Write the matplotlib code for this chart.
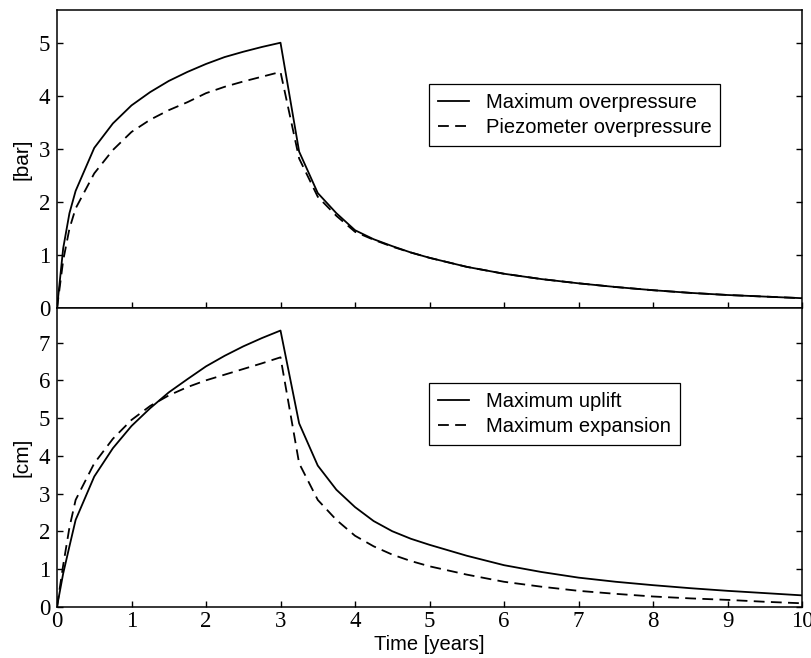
import numpy as np
from matplotlib import pyplot as plt

# time axis [years]
t = [0, 0.083, 0.167, 0.25, 0.5, 0.75, 1.0, 1.25, 1.5, 1.75, 2.0, 2.25, 2.5, 2.75, 3.0,
     3.25, 3.5, 3.75, 4.0, 4.25, 4.5, 4.75, 5.0, 5.5, 6.0, 6.5, 7.0, 7.5, 8.0, 8.5, 9.0, 9.5, 10.0]

# overpressure [bar]
max_overpressure = [0, 1.13, 1.79, 2.21, 3.02, 3.48, 3.82, 4.07, 4.28, 4.45, 4.60, 4.73, 4.83, 4.92, 5.00,
                    2.95, 2.17, 1.79, 1.47, 1.30, 1.17, 1.05, 0.95, 0.78, 0.65, 0.55, 0.47, 0.40, 0.34, 0.29, 0.25, 0.22, 0.19]
piezo_overpressure = [0, 0.90, 1.50, 1.88, 2.54, 2.98, 3.32, 3.55, 3.73, 3.88, 4.05, 4.17, 4.27, 4.36, 4.45,
                      2.82, 2.10, 1.74, 1.44, 1.29, 1.16, 1.05, 0.95, 0.78, 0.65, 0.55, 0.47, 0.40, 0.34, 0.29, 0.25, 0.22, 0.19]

# displacement [cm]
max_uplift = [0, 0.88, 1.60, 2.30, 3.45, 4.20, 4.79, 5.26, 5.68, 6.03, 6.37, 6.65, 6.90, 7.12, 7.32,
              4.86, 3.74, 3.10, 2.64, 2.27, 2.00, 1.80, 1.64, 1.35, 1.10, 0.92, 0.77, 0.66, 0.57, 0.49, 0.42, 0.36, 0.30]
max_expansion = [0, 1.10, 2.10, 2.83, 3.80, 4.45, 4.95, 5.32, 5.60, 5.82, 6.00, 6.15, 6.30, 6.45, 6.61,
                 3.80, 2.83, 2.30, 1.88, 1.60, 1.38, 1.21, 1.07, 0.85, 0.66, 0.53, 0.42, 0.34, 0.27, 0.22, 0.18, 0.13, 0.09]

serif = 'Liberation Serif'
sans = 'Liberation Sans'

fig = plt.figure(figsize=(8.12, 6.58), dpi=100)
ax1 = fig.add_axes([0.0702, 0.5315, 0.9175, 0.4528])
ax2 = fig.add_axes([0.0702, 0.0780, 0.9175, 0.4535], sharex=ax1)

lw = 1.3
dash = (6, 3.5)

ax1.plot(t, max_overpressure, color='black', lw=lw, label='Maximum overpressure')
ax1.plot(t, piezo_overpressure, color='black', lw=lw, dashes=dash, label='Piezometer overpressure')
ax2.plot(t, max_uplift, color='black', lw=lw, label='Maximum uplift')
ax2.plot(t, max_expansion, color='black', lw=lw, dashes=dash, label='Maximum expansion')

ax1.set_ylim(0, 5.61)
ax2.set_ylim(0, 7.91)
ax1.set_xlim(0, 10)
ax1.set_yticks(range(0, 6))
ax2.set_yticks(range(0, 8))
ax2.set_xticks(range(0, 11))

for ax in (ax1, ax2):
    ax.tick_params(direction='in', length=4.5, width=1.0, left=True, right=True, top=False,
                   labelsize=16.5)
    for lab in ax.get_xticklabels() + ax.get_yticklabels():
        lab.set_fontfamily(serif)
    for s in ax.spines.values():
        s.set_linewidth(1.1)
    ax.tick_params(axis='y', pad=5)
    ax.tick_params(axis='x', pad=3)
plt.setp(ax1.get_xticklabels(), visible=False)

ax1.set_ylabel('[bar]', fontfamily=sans, fontsize=15, labelpad=5)
ax2.set_ylabel('[cm]', fontfamily=sans, fontsize=15, labelpad=5)
ax2.set_xlabel('Time [years]', fontfamily=sans, fontsize=14.5, labelpad=2)

leg_kw = dict(loc='upper left', frameon=True, fancybox=False, framealpha=1,
              edgecolor='black', handlelength=1.5, handletextpad=0.85, borderpad=0.45,
              borderaxespad=0, labelspacing=0.3, prop={'family': sans, 'size': 14.5})
l1 = ax1.legend(bbox_to_anchor=(0.4997, 0.752), **leg_kw)
l2 = ax2.legend(bbox_to_anchor=(0.4997, 0.749), **leg_kw)
for l in (l1, l2):
    l.get_frame().set_linewidth(0.9)

fig.savefig('out.png', dpi=100)
